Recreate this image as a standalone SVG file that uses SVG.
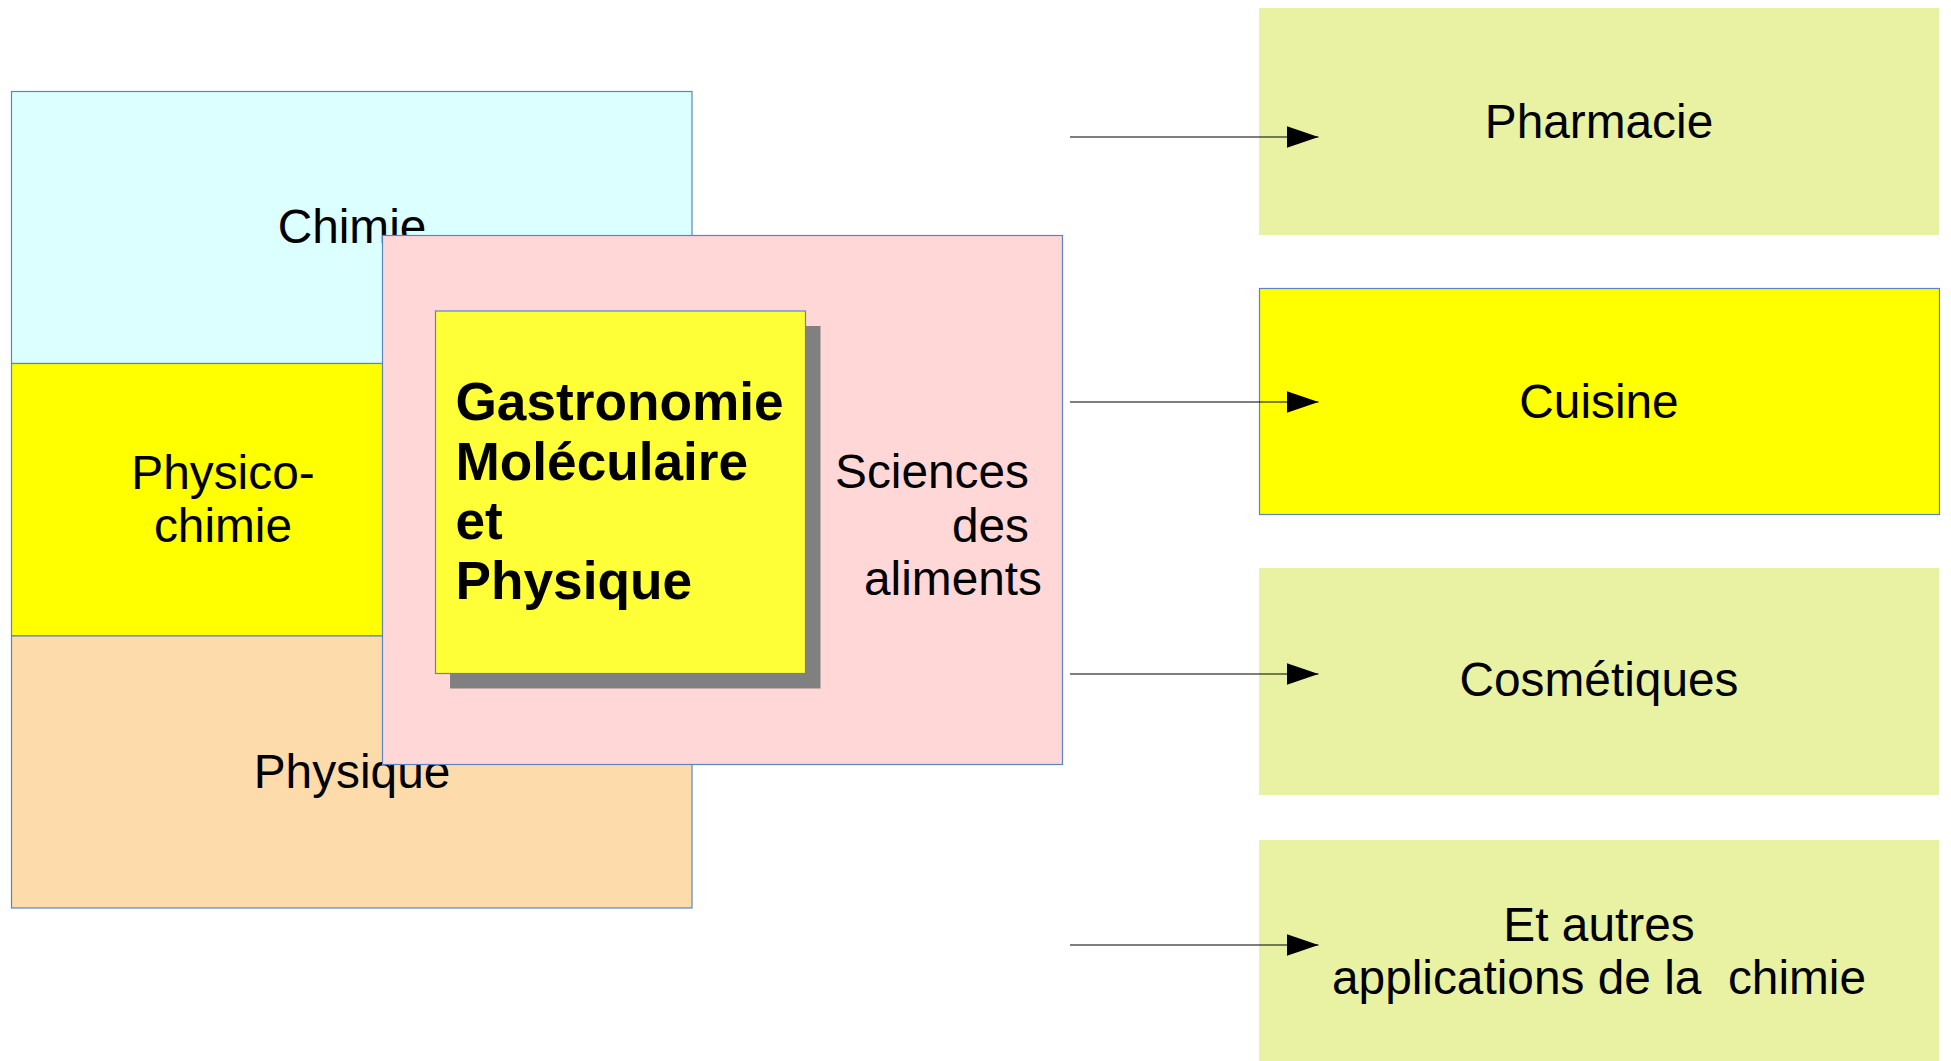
<svg xmlns="http://www.w3.org/2000/svg" width="1951" height="1061" viewBox="0 0 1951 1061">
<defs>
<style>
.t{font-family:"Liberation Sans",Arial,sans-serif;font-size:47.8px;fill:#000}
.b{font-family:"Liberation Sans",Arial,sans-serif;font-size:53.2px;font-weight:bold;fill:#000}
.bx{stroke:#5b85c2;stroke-width:1.2}
.app{fill:#e8f2a2}
.conn{stroke:#000;stroke-width:1.2;fill:none}
</style>
<marker id="ah" viewBox="0 0 32 22" refX="32" refY="11" markerWidth="32" markerHeight="22" markerUnits="userSpaceOnUse" orient="auto">
<path d="M0,0 L32,11 L0,22 z" fill="#000"/>
</marker>
</defs>
<rect width="1951" height="1061" fill="#fff"/>
<g id="chimie">
<rect class="bx" x="11.5" y="91.5" width="680.5" height="272" fill="#dcffff"/>
<text class="t" x="352" y="243" text-anchor="middle">Chimie</text>
</g>
<g id="physico-chimie">
<rect class="bx" x="11.5" y="363.5" width="680.5" height="272.5" fill="#ffff00"/>
<text class="t" x="223" text-anchor="middle"><tspan x="223" y="488.5">Physico-</tspan><tspan x="223" y="541.5">chimie</tspan></text>
</g>
<g id="physique">
<rect class="bx" x="11.5" y="636" width="680.5" height="272" fill="#fddbaa"/>
<text class="t" x="352" y="788" text-anchor="middle">Physique</text>
</g>
<g id="sciences-aliments">
<rect class="bx" x="382.5" y="235.5" width="680" height="529" fill="#ffd7d7"/>
<text class="t" text-anchor="end"><tspan x="1029" y="488">Sciences</tspan><tspan x="1029" y="541.5">des</tspan><tspan x="1042" y="595">aliments</tspan></text>
</g>
<g id="gastronomie">
<rect x="450" y="326" width="370.5" height="362.5" fill="#808080"/>
<rect class="bx" x="435.5" y="311" width="370" height="362.5" fill="#ffff38"/>
<text class="b"><tspan x="455.5" y="420">Gastronomie</tspan><tspan x="455.5" y="479.5">Moléculaire</tspan><tspan x="455.5" y="539">et</tspan><tspan x="455.5" y="598.5">Physique</tspan></text>
</g>
<g id="pharmacie">
<rect class="app" x="1259" y="8" width="680" height="227"/>
<text class="t" x="1599" y="137.5" text-anchor="middle">Pharmacie</text>
</g>
<g id="cuisine">
<rect class="bx" x="1259.5" y="288.5" width="680" height="226" fill="#ffff00"/>
<text class="t" x="1599" y="417.5" text-anchor="middle">Cuisine</text>
</g>
<g id="cosmetiques">
<rect class="app" x="1259" y="568" width="680" height="227"/>
<text class="t" x="1599" y="696" text-anchor="middle">Cosmétiques</text>
</g>
<g id="autres">
<rect class="app" x="1259" y="840" width="680" height="227"/>
<text class="t" text-anchor="middle" xml:space="preserve"><tspan x="1599" y="941">Et autres</tspan><tspan x="1599" y="994">applications de la  chimie</tspan></text>
</g>
<g id="connectors">
<line class="conn" x1="1070" y1="137" x2="1318.5" y2="137" marker-end="url(#ah)"/>
<line class="conn" x1="1070" y1="402" x2="1318.5" y2="402" marker-end="url(#ah)"/>
<line class="conn" x1="1070" y1="674" x2="1318.5" y2="674" marker-end="url(#ah)"/>
<line class="conn" x1="1070" y1="945" x2="1318.5" y2="945" marker-end="url(#ah)"/>
</g>
</svg>
